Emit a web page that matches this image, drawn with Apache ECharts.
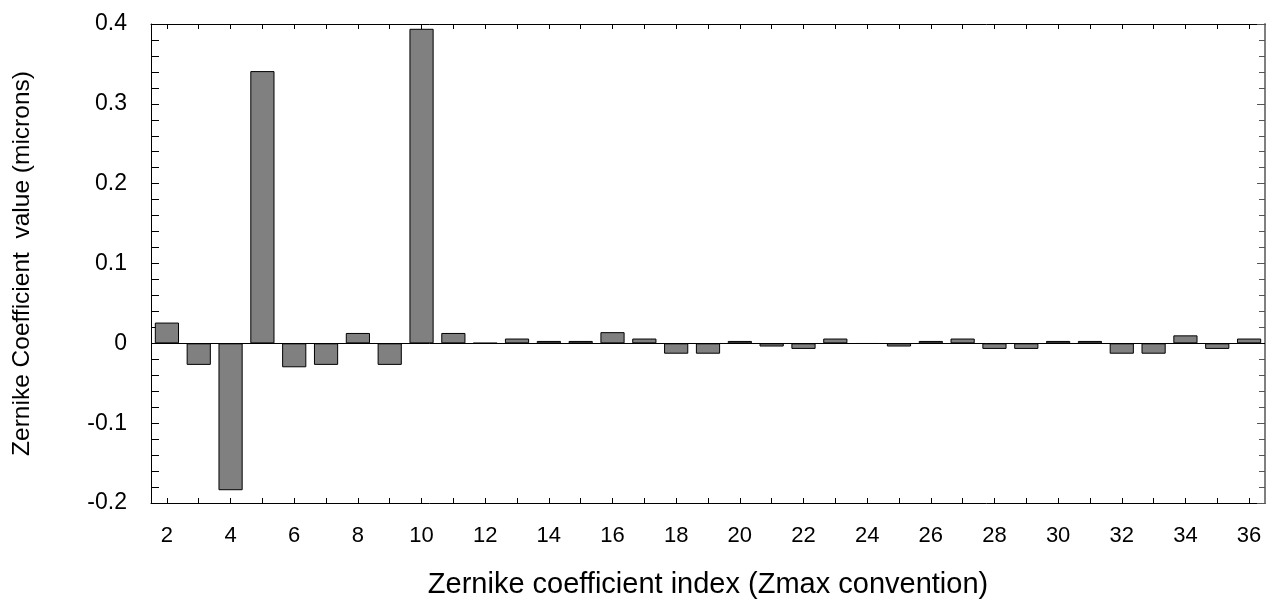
<!DOCTYPE html>
<html><head><meta charset="utf-8">
<script src="https://cdn.jsdelivr.net/npm/echarts@6/dist/echarts.min.js"></script>
<style>html,body{margin:0;padding:0;background:#fff}#c{width:1274px;height:603px}</style>
</head><body><div id="c"></div>
<script>
const categories = ['2','3','4','5','6','7','8','9','10','11','12','13','14','15','16','17','18','19','20','21','22','23','24','25','26','27','28','29','30','31','32','33','34','35','36'];
const values = [0.026,-0.027,-0.184,0.341,-0.030,-0.027,0.013,-0.027,0.394,0.013,0.0004,0.006,0.003,0.003,0.014,0.006,-0.013,-0.013,0.003,-0.004,-0.007,0.006,-0.0004,-0.004,0.003,0.006,-0.007,-0.007,0.003,0.003,-0.013,-0.013,0.010,-0.007,0.006];
const yTicks = {min:-0.2, max:0.4, interval:0.1};
const yName = 'Zernike Coefficient  value (microns)';
const xName = 'Zernike coefficient index (Zmax convention)';

const FONT = 'Liberation Sans, Arial, sans-serif';
const chart = echarts.init(document.getElementById('c'), null, {renderer:'canvas'});
chart.setOption({
  animation:false,
  backgroundColor:'#fff',
  grid:{left:151, right:9, top:24, bottom:100, containLabel:false, outerBoundsMode:'none'},
  xAxis:[{
    type:'category', data:categories, position:'bottom',
    name:xName, nameLocation:'middle', nameGap:67,
    nameTextStyle:{fontFamily:FONT, fontSize:29, color:'#000'},
    axisLine:{show:true, onZero:false, lineStyle:{color:'#000', width:1}},
    axisTick:{show:true, inside:true, length:5, alignWithLabel:true, interval:0, lineStyle:{color:'#000'}},
    axisLabel:{interval:1, fontFamily:FONT, fontSize:22, color:'#000', margin:22},
    splitLine:{show:false}
  },{
    type:'category', data:categories, position:'top',
    axisLine:{show:true, onZero:false, lineStyle:{color:'#000', width:1}},
    axisTick:{show:true, inside:true, length:5, alignWithLabel:true, interval:0, lineStyle:{color:'#000'}},
    axisLabel:{show:false}, splitLine:{show:false}
  }],
  yAxis:[{
    type:'value', position:'left', min:yTicks.min, max:yTicks.max, interval:yTicks.interval,
    name:yName, nameLocation:'middle', nameGap:116,
    nameTextStyle:{fontFamily:FONT, fontSize:24.5, color:'#000'},
    axisLine:{show:true, onZero:false, lineStyle:{color:'#000', width:1}},
    axisTick:{show:true, inside:true, length:8, lineStyle:{color:'#000'}},
    minorTick:{show:true, splitNumber:5, length:8, lineStyle:{color:'#000'}},
    axisLabel:{fontFamily:FONT, fontSize:23, color:'#000', margin:24,
      formatter:v=>String(Math.round(v*10)/10)},
    splitLine:{show:false}
  },{
    type:'value', position:'right', min:yTicks.min, max:yTicks.max, interval:yTicks.interval,
    axisLine:{show:true, onZero:false, lineStyle:{color:'#808080', width:2}},
    axisTick:{show:true, inside:true, length:8, lineStyle:{color:'#555'}},
    minorTick:{show:true, splitNumber:5, length:6, lineStyle:{color:'#555'}},
    axisLabel:{show:false}, splitLine:{show:false}
  }],
  series:[{
    type:'bar', data:values, xAxisIndex:0, yAxisIndex:0, barWidth:'76%',
    itemStyle:{color:'#808080', borderColor:'#000', borderWidth:1},
    markLine:{silent:true, symbol:'none', label:{show:false},
      lineStyle:{color:'#000', width:1, type:'solid'}, data:[{yAxis:0}]}
  }]
});
</script></body></html>
